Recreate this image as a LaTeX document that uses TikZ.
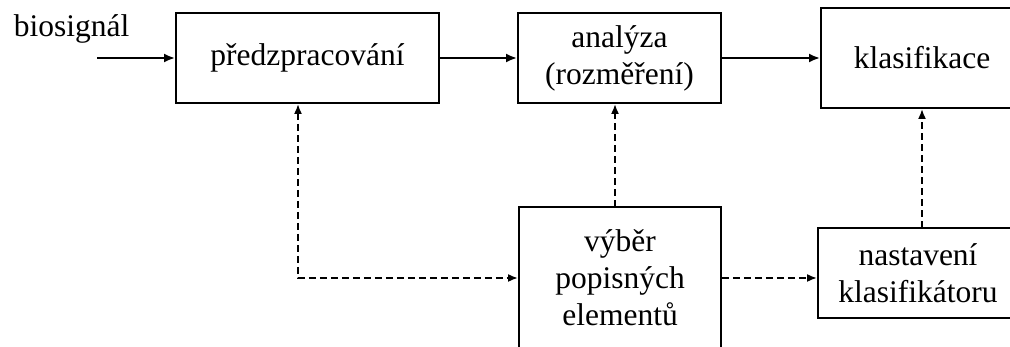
\documentclass[tikz,border=0pt]{standalone}
\usepackage{fontspec}
\setmainfont{Liberation Serif}
\usetikzlibrary{arrows.meta}
\tikzset{
  box/.style={draw, line width=1.8pt, rectangle, align=center, inner sep=0pt,
    font=\fontsize{31.5}{37}\selectfont},
  solidarrow/.style={line width=2.8pt, -{Latex[length=11pt,width=9pt]}},
  dasharrow/.style={line width=2.5pt, dash pattern=on 7pt off 4pt, -{Latex[length=10pt,width=8pt]}},
  lbl/.style={font=\fontsize{31.5}{37}\selectfont, inner sep=0pt}
}
\begin{document}
\begin{tikzpicture}[x=1pt,y=-1pt]
\useasboundingbox (0,0) rectangle (1010,347);
\clip (0,0) rectangle (1010,347);
\node[box, minimum width=263pt, minimum height=90pt] (pre) at (307.5,58) {předzpracování};
\node[box, minimum width=203pt, minimum height=90pt] (ana) at (619.5,58) {analýza\\(rozměření)};
\node[box, minimum width=202pt, minimum height=100pt] (kla) at (922,58) {klasifikace};
\node[box, minimum width=202pt, minimum height=141pt] (vyb) at (620,277.5) {výběr\\popisných\\elementů};
\node[box, minimum width=200pt, minimum height=90pt] (nas) at (918,273) {nastavení\\klasifikátoru};
\node[lbl, anchor=base] (bio) at (71.5,37) {biosignál};
\coordinate (in) at (97,58);
\coordinate (c1) at (298,278);
\coordinate (v1) at (615,207);
\coordinate (n1) at (922,228);
\draw[solidarrow] (in) -- (pre.west);
\draw[solidarrow] (pre.east) -- (ana.west);
\draw[solidarrow] (ana.east) -- (ana.east -| kla.west);
\draw[dasharrow, {Latex[length=10pt,width=8pt]}-{Latex[length=10pt,width=8pt]}] (c1 |- pre.south) |- (vyb.west |- c1);
\draw[dasharrow] (v1) -- (v1 |- ana.south);
\draw[dasharrow] (vyb.east |- c1) -- (nas.west |- c1);
\draw[dasharrow] (n1) -- (n1 |- kla.south);
\end{tikzpicture}
\end{document}
